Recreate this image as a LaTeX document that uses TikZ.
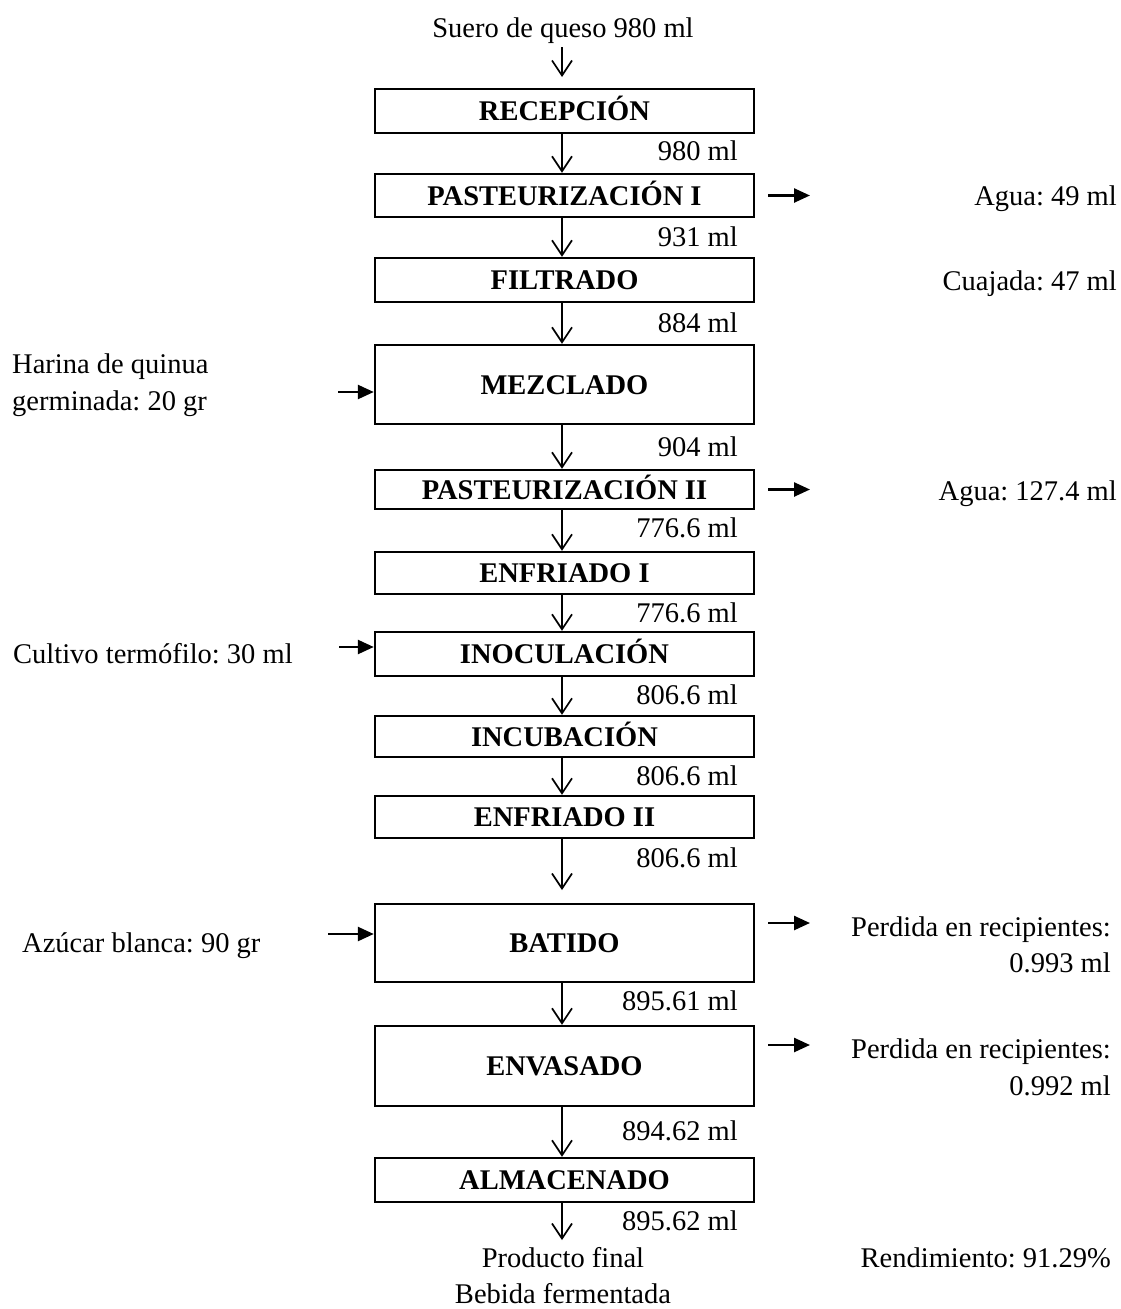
\documentclass[tikz,border=0pt]{standalone}
\usepackage{fontspec}
\setmainfont{Liberation Serif}
\usetikzlibrary{arrows.meta,calc}
\frenchspacing
\newcommand\fsz{\fontsize{28.5}{34}\selectfont\frenchspacing}
\begin{document}
\begin{tikzpicture}[x=1pt,y=-1pt,
  proc/.style={draw,line width=2.4pt,minimum width=379pt,inner sep=0pt,font=\fsz\bfseries,text height=19pt,text depth=0pt},
  lbl/.style={inner sep=0pt,font=\fsz},
  flow/.style={line width=1.7pt,-{Straight Barb[length=15pt,width=20pt,line width=1.7pt]}},
  side/.style={line width=2.5pt,-{Triangle[length=16pt,width=14pt]}}]
\useasboundingbox[fill=white] (0,0) rectangle (1121,1309);

% process boxes
\node[proc,minimum height=44pt] (rec)  at (564.5,111)   {RECEPCIÓN};
\node[proc,minimum height=43pt] (p1)   at (564.5,195.5) {PASTEURIZACIÓN I};
\node[proc,minimum height=44pt] (fil)  at (564.5,280)   {FILTRADO};
\node[proc,minimum height=79pt] (mez)  at (564.5,384.5) {MEZCLADO};
\node[proc,minimum height=39pt] (p2)   at (564.5,489.5) {PASTEURIZACIÓN II};
\node[proc,minimum height=42pt] (enf1) at (564.5,573)   {ENFRIADO I};
\node[proc,minimum height=44pt] (ino)  at (564.5,654)   {INOCULACIÓN};
\node[proc,minimum height=41pt] (inc)  at (564.5,736.5) {INCUBACIÓN};
\node[proc,minimum height=42pt] (enf2) at (564.5,817)   {ENFRIADO II};
\node[proc,minimum height=78pt] (bat)  at (564.5,943)   {BATIDO};
\node[proc,minimum height=80pt] (env)  at (564.5,1066)  {ENVASADO};
\node[proc,minimum height=44pt] (alm)  at (564.5,1180)  {ALMACENADO};

% top and bottom texts
\node[lbl,anchor=base] (suero) at (563,37) {Suero de queso 980 ml};
\node[lbl,anchor=base] (prod) at (563,1267) {Producto final};
\node[lbl,anchor=base] (beb) at (563,1303) {Bebida fermentada};

% vertical flow
\coordinate (topin) at (562,77);
\coordinate (batin) at (562,890);
\coordinate (endout) at (562,1240);
\draw[flow] (topin |- 0,47) -- (topin);
\draw[flow] ([xshift=-2.5pt]rec.south) -- ([xshift=-2.5pt]p1.north);
\draw[flow] ([xshift=-2.5pt]p1.south) -- ([xshift=-2.5pt]fil.north);
\draw[flow] ([xshift=-2.5pt]fil.south) -- ([xshift=-2.5pt]mez.north);
\draw[flow] ([xshift=-2.5pt]mez.south) -- ([xshift=-2.5pt]p2.north);
\draw[flow] ([xshift=-2.5pt]p2.south) -- ([xshift=-2.5pt]enf1.north);
\draw[flow] ([xshift=-2.5pt]enf1.south) -- ([xshift=-2.5pt]ino.north);
\draw[flow] ([xshift=-2.5pt]ino.south) -- ([xshift=-2.5pt]inc.north);
\draw[flow] ([xshift=-2.5pt]inc.south) -- ([xshift=-2.5pt]enf2.north);
\draw[flow] ([xshift=-2.5pt]enf2.south) -- (batin);
\draw[flow] ([xshift=-2.5pt]bat.south) -- ([xshift=-2.5pt]env.north);
\draw[flow] ([xshift=-2.5pt]env.south) -- ([xshift=-2.5pt]alm.north);
\draw[flow] ([xshift=-2.5pt]alm.south) -- (endout);

% flow quantities
\node[lbl,anchor=base east] (q1)  at (738,160)  {980 ml};
\node[lbl,anchor=base east] (q2)  at (738,246)  {931 ml};
\node[lbl,anchor=base east] (q3)  at (738,332)  {884 ml};
\node[lbl,anchor=base east] (q4)  at (738,456)  {904 ml};
\node[lbl,anchor=base east] (q5)  at (738,537)  {776.6 ml};
\node[lbl,anchor=base east] (q6)  at (738,622)  {776.6 ml};
\node[lbl,anchor=base east] (q7)  at (738,704)  {806.6 ml};
\node[lbl,anchor=base east] (q8)  at (738,785)  {806.6 ml};
\node[lbl,anchor=base east] (q9)  at (738,867)  {806.6 ml};
\node[lbl,anchor=base east] (q10) at (738,1010) {895.61 ml};
\node[lbl,anchor=base east] (q11) at (738,1140) {894.62 ml};
\node[lbl,anchor=base east] (q12) at (738,1230) {895.62 ml};

% outputs (right)
\coordinate (o1) at (810,195.5);
\coordinate (o2) at (810,489.5);
\coordinate (o3) at (810,923);
\coordinate (o4) at (810,1045);
\draw[side,shorten <=13pt] (o1 -| p1.east) -- (o1);
\draw[side,shorten <=13pt] (o2 -| p2.east) -- (o2);
\draw[side,shorten <=13pt] (o3 -| bat.east) -- (o3);
\draw[side,shorten <=13pt] (o4 -| env.east) -- (o4);
\node[lbl,anchor=base east] (agua1) at (1117,205) {Agua: 49 ml};
\node[lbl,anchor=base east] (cuaj)  at (1117,290) {Cuajada: 47 ml};
\node[lbl,anchor=base east] (agua2) at (1117,500) {Agua: 127.4 ml};
\node[lbl,anchor=base east] (per1a) at (1111,936) {Perdida en recipientes:};
\node[lbl,anchor=base east] (per1b) at (1111,972) {0.993 ml};
\node[lbl,anchor=base east] (per2a) at (1111,1058) {Perdida en recipientes:};
\node[lbl,anchor=base east] (per2b) at (1111,1095) {0.992 ml};
\node[lbl,anchor=base east] (rend)  at (1111,1267) {Rendimiento: 91.29\%};

% inputs (left)
\coordinate (i1) at (338,392);
\coordinate (i2) at (339,647);
\coordinate (i3) at (328,934);
\draw[side] (i1) -- (i1 -| mez.west);
\draw[side] (i2) -- (i2 -| ino.west);
\draw[side] (i3) -- (i3 -| bat.west);
\node[lbl,anchor=base west] (har1) at (12,373) {Harina de quinua};
\node[lbl,anchor=base west] (har2) at (12,410) {germinada: 20 gr};
\node[lbl,anchor=base west] (cult) at (13,663) {Cultivo termófilo: 30 ml};
\node[lbl,anchor=base west] (azu)  at (22,952) {Azúcar blanca: 90 gr};
\end{tikzpicture}
\end{document}
